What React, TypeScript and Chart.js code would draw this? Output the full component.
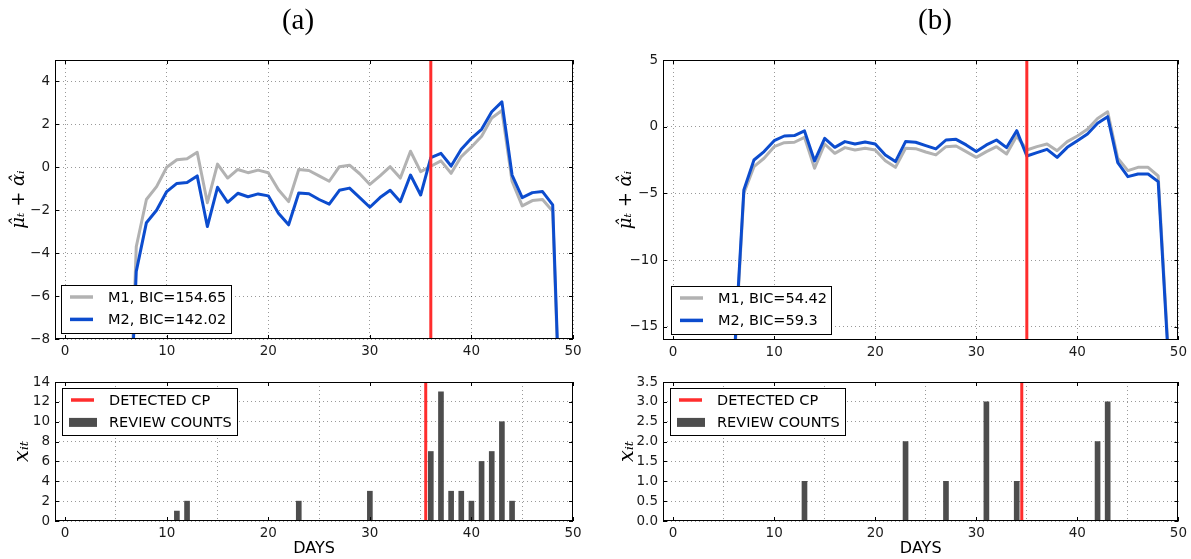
import React, { useEffect, useRef } from "react";
import { Chart, registerables } from "chart.js";

Chart.register(...registerables);

// ---------- data ----------
const days = [6, 7, 8, 9, 10, 11, 12, 13, 14, 15, 16, 17, 18, 19, 20, 21, 22, 23, 24, 25, 26, 27, 28, 29, 30, 31, 32, 33, 34, 35, 36, 37, 38, 39, 40, 41, 42, 43, 44, 45, 46, 47, 48, 49];

const m1A = [-17, -3.7, -1.5, -0.9, 0.0, 0.35, 0.4, 0.7, -1.65, 0.15, -0.5, -0.1, -0.25, -0.13, -0.25, -1.05, -1.6, -0.1, -0.15, -0.4, -0.65, 0.03, 0.1, -0.3, -0.8, -0.4, 0.03, -0.5, 0.75, -0.2, 0.05, 0.3, -0.28, 0.5, 0.95, 1.45, 2.3, 2.65, -0.65, -1.8, -1.55, -1.5, -2.05, -16];
const m2A = [-16.5, -4.85, -2.58, -2.0, -1.13, -0.75, -0.71, -0.4, -2.76, -0.93, -1.63, -1.21, -1.37, -1.24, -1.33, -2.14, -2.68, -1.2, -1.23, -1.5, -1.72, -1.07, -0.97, -1.41, -1.86, -1.41, -1.07, -1.6, -0.36, -1.29, 0.45, 0.65, 0.06, 0.84, 1.35, 1.77, 2.59, 3.05, -0.36, -1.41, -1.18, -1.13, -1.75, -15.6];

const m1B = [-18.5, -5.0, -3.0, -2.37, -1.5, -1.2, -1.17, -0.8, -3.12, -1.3, -2.0, -1.57, -1.75, -1.62, -1.75, -2.55, -3.05, -1.62, -1.65, -1.9, -2.12, -1.5, -1.45, -1.87, -2.3, -1.87, -1.5, -2.05, -0.7, -1.75, -1.5, -1.3, -1.8, -1.12, -0.7, -0.2, 0.62, 1.12, -2.37, -3.3, -3.05, -3.05, -3.7, -17];
const m2B = [-18, -4.75, -2.5, -1.87, -1.05, -0.7, -0.67, -0.32, -2.57, -0.87, -1.55, -1.12, -1.3, -1.15, -1.3, -2.12, -2.62, -1.12, -1.17, -1.42, -1.67, -1.0, -0.95, -1.37, -1.87, -1.37, -1.0, -1.57, -0.3, -2.2, -1.95, -1.7, -2.3, -1.55, -1.05, -0.55, 0.25, 0.75, -2.7, -3.75, -3.55, -3.55, -4.12, -17.4];

const countDaysA = [11, 12, 23, 30, 36, 37, 38, 39, 40, 41, 42, 43, 44];
const countsA = [1, 2, 2, 3, 7, 13, 3, 3, 2, 6, 7, 10, 2];
const countDaysB = [13, 23, 27, 31, 34, 42, 43];
const countsB = [1, 2, 1, 3, 1, 2, 3];

const cpTopA = 36;
const cpBottomA = 35.5;
const cpTopB = 35;
const cpBottomB = 34.5;

const xRange = [-1, 50];
const xTicks = [0, 10, 20, 30, 40, 50];
const yRangeTopA = [-8, 5];
const yTicksTopA = [-8, -6, -4, -2, 0, 2, 4];
const yRangeTopB = [-16, 5];
const yTicksTopB = [-15, -10, -5, 0, 5];
const yRangeBottomA = [0, 14];
const yTicksBottomA = [0, 2, 4, 6, 8, 10, 12, 14];
const yRangeBottomB = [0, 3.5];
const yTicksBottomB = [0, 0.5, 1, 1.5, 2, 2.5, 3, 3.5];

const legendTopA = ["M1, BIC=154.65", "M2, BIC=142.02"];
const legendTopB = ["M1, BIC=54.42", "M2, BIC=59.3"];
const legendBottom = ["DETECTED CP", "REVIEW COUNTS"];
const panelTitles = ["(a)", "(b)"];
const yTitleTop = "μ\u0302ₜ + α\u0302ᵢ";
const yTitleBottom = "xᵢₜ";
const xTitleBottom = "DAYS";

// ---------- styles ----------
const GRAY = "rgb(178,178,178)";
const BLUE = "rgb(12,76,206)";
const RED = "rgb(255,45,45)";
const BAR = "rgb(77,77,77)";
const SANS = "'DejaVu Sans', sans-serif";
const fmtMinus = (v: number, digits = 0) => {
  const s = digits ? Math.abs(v).toFixed(digits) : String(Math.abs(v));
  return (v < 0 ? "\u2212" : "") + s;
};

const framePlugin = {
  id: "frame",
  afterDatasetsDraw(chart: any, _args: any, opts: any) {
    const { ctx, chartArea: a, scales } = chart;
    const x = scales.x;
    const y = scales.y;
    ctx.save();
    ctx.strokeStyle = "#000";
    ctx.lineWidth = 1;
    ctx.beginPath();
    x.ticks.forEach((t: any) => {
      const px = Math.round(x.getPixelForValue(t.value)) + 0.5;
      ctx.moveTo(px, a.bottom);
      ctx.lineTo(px, a.bottom - 4);
      ctx.moveTo(px, a.top);
      ctx.lineTo(px, a.top + 4);
    });
    y.ticks.forEach((t: any) => {
      const py = Math.round(y.getPixelForValue(t.value)) + 0.5;
      ctx.moveTo(a.left, py);
      ctx.lineTo(a.left + 4, py);
      ctx.moveTo(a.right, py);
      ctx.lineTo(a.right - 4, py);
    });
    ctx.stroke();
    ctx.strokeRect(Math.round(a.left) + 0.5, Math.round(a.top) + 0.5, Math.round(a.right) - Math.round(a.left) - 1, Math.round(a.bottom) - Math.round(a.top) - 1);

    const L = opts && opts.legend;
    if (L) {
      const bx = Math.round(a.left + L.dx);
      const by = L.fromBottom ? Math.round(a.bottom - L.dy - L.h) : Math.round(a.top + L.dy);
      ctx.fillStyle = "#fff";
      ctx.fillRect(bx, by, L.w, L.h);
      ctx.strokeStyle = "#000";
      ctx.lineWidth = 1;
      ctx.strokeRect(bx + 0.5, by + 0.5, L.w, L.h);
      L.items.forEach((it: any, i: number) => {
        const cy = by + 12 + i * 22.4;
        if (it.kind === "line") {
          ctx.strokeStyle = it.color;
          ctx.lineWidth = 3.5;
          ctx.beginPath();
          ctx.moveTo(bx + 9, cy);
          ctx.lineTo(bx + 32, cy);
          ctx.stroke();
        } else {
          ctx.fillStyle = it.color;
          ctx.fillRect(bx + 7, cy - 4.5, 28, 9);
        }
        ctx.fillStyle = "#000";
        ctx.font = "14.5px " + SANS;
        ctx.textBaseline = "middle";
        ctx.textAlign = "left";
        ctx.fillText(it.label, bx + 47, cy + 1);
      });
    }
    const T = opts && opts.title;
    if (T) {
      ctx.fillStyle = "#000";
      ctx.font = "29px 'Liberation Serif', serif";
      ctx.textAlign = "center";
      ctx.textBaseline = "middle";
      ctx.fillText(T.text, T.x, T.y);
    }
    ctx.restore();
  },
};

type PanelCfg = {
  kind: "top" | "bottom";
  width: number;
  height: number;
  pad: { left: number; top: number; right: number; bottom: number };
  yWidth: number;
  xHeight: number;
  yRange: number[];
  yTicks: number[];
  yDigits: number;
  yTitle: string;
  yTitleSize: number;
  yTitlePad: number;
  datasets: any[];
  legend: any;
  title?: any;
};

function buildConfig(c: PanelCfg): any {
  const tickFont = { family: SANS, size: 13.5 };
  return {
    type: c.kind === "top" ? "line" : "bar",
    data: { datasets: c.datasets },
    plugins: [framePlugin],
    options: {
      animation: false,
      responsive: false,
      events: [],
      layout: { padding: c.pad },
      plugins: {
        legend: { display: false },
        tooltip: { enabled: false },
        frame: { legend: c.legend, title: c.title },
      },
      scales: {
        x: {
          type: "linear",
          min: xRange[0],
          max: xRange[1],
          offset: false,
          afterBuildTicks: (s: any) => {
            s.ticks = xTicks.map((v) => ({ value: v }));
          },
          afterFit: (s: any) => {
            s.height = c.xHeight;
          },
          ticks: { font: tickFont, color: "#1a1a1a", padding: 4, maxRotation: 0, callback: (v: number) => fmtMinus(v) },
          grid: { color: "rgba(0,0,0,0.4)", lineWidth: 1, drawTicks: false },
          border: { display: false, dash: [1, 3] },
          title: c.kind === "bottom"
            ? { display: true, text: xTitleBottom, font: { family: SANS, size: 16 }, color: "#000", padding: { top: 0, bottom: 1 } }
            : { display: false },
        },
        y: {
          type: "linear",
          min: c.yRange[0],
          max: c.yRange[1],
          afterBuildTicks: (s: any) => {
            s.ticks = c.yTicks.map((v) => ({ value: v }));
          },
          afterFit: (s: any) => {
            s.width = c.yWidth;
          },
          ticks: { font: tickFont, color: "#1a1a1a", padding: 5, callback: (v: number) => fmtMinus(v, c.yDigits) },
          grid: { color: "rgba(0,0,0,0.4)", lineWidth: 1, drawTicks: false },
          border: { display: false, dash: [1, 3] },
          title: {
            display: true,
            text: c.yTitle,
            font: { family: "'DejaVu Serif', serif", size: c.yTitleSize, style: "italic" },
            color: "#000",
            padding: { top: c.yTitlePad, bottom: 0 },
          },
        },
      },
    },
  };
}

const pts = (xs: number[], ys: number[]) => xs.map((d, i) => ({ x: d, y: ys[i] }));

function lineSets(m1: number[], m2: number[], cp: number, yRange: number[]) {
  return [
    { type: "line", data: [{ x: cp, y: yRange[0] }, { x: cp, y: yRange[1] }], borderColor: RED, borderWidth: 3, pointRadius: 0, clip: 0, order: 0 },
    { type: "line", label: "M2", data: pts(days, m2), borderColor: BLUE, borderWidth: 3, pointRadius: 0, tension: 0, clip: 0, order: 1, borderJoinStyle: "round" },
    { type: "line", label: "M1", data: pts(days, m1), borderColor: GRAY, borderWidth: 3, pointRadius: 0, tension: 0, clip: 0, order: 2, borderJoinStyle: "round" },
  ];
}

function barSets(cd: number[], counts: number[], cp: number, yRange: number[]) {
  return [
    { type: "line", data: [{ x: cp, y: yRange[0] }, { x: cp, y: yRange[1] }], borderColor: RED, borderWidth: 3, pointRadius: 0, clip: 0, order: 0 },
    { type: "bar", label: "REVIEW COUNTS", data: pts(cd, counts), backgroundColor: BAR, barThickness: 5, grouped: false, order: 1 },
  ];
}

const panels: { left: number; top: number; cfg: PanelCfg }[] = [
  {
    left: 0,
    top: 0,
    cfg: {
      kind: "top", width: 596, height: 362,
      pad: { left: 0, top: 60, right: 23, bottom: 0 }, yWidth: 55, xHeight: 23,
      yRange: yRangeTopA, yTicks: yTicksTopA, yDigits: 0, yTitle: yTitleTop, yTitleSize: 18, yTitlePad: 9,
      datasets: lineSets(m1A, m2A, cpTopA, yRangeTopA),
      legend: { dx: 6, dy: 6, fromBottom: true, w: 170, h: 48, items: [{ kind: "line", color: GRAY, label: legendTopA[0] }, { kind: "line", color: BLUE, label: legendTopA[1] }] },
      title: { text: panelTitles[0], x: 298, y: 21 },
    },
  },
  {
    left: 600,
    top: 0,
    cfg: {
      kind: "top", width: 591, height: 362,
      pad: { left: 0, top: 60, right: 9, bottom: 0 }, yWidth: 63, xHeight: 22,
      yRange: yRangeTopB, yTicks: yTicksTopB, yDigits: 0, yTitle: yTitleTop, yTitleSize: 18, yTitlePad: 16,
      datasets: lineSets(m1B, m2B, cpTopB, yRangeTopB),
      legend: { dx: 8, dy: 6, fromBottom: true, w: 160, h: 48, items: [{ kind: "line", color: GRAY, label: legendTopB[0] }, { kind: "line", color: BLUE, label: legendTopB[1] }] },
      title: { text: panelTitles[1], x: 335, y: 21 },
    },
  },
  {
    left: 0,
    top: 362,
    cfg: {
      kind: "bottom", width: 596, height: 197,
      pad: { left: 0, top: 20, right: 23, bottom: 0 }, yWidth: 55, xHeight: 38,
      yRange: yRangeBottomA, yTicks: yTicksBottomA, yDigits: 0, yTitle: yTitleBottom, yTitleSize: 21, yTitlePad: 10,
      datasets: barSets(countDaysA, countsA, cpBottomA, yRangeBottomA),
      legend: { dx: 7, dy: 6, fromBottom: false, w: 175, h: 47, items: [{ kind: "line", color: RED, label: legendBottom[0] }, { kind: "rect", color: BAR, label: legendBottom[1] }] },
    },
  },
  {
    left: 600,
    top: 362,
    cfg: {
      kind: "bottom", width: 591, height: 197,
      pad: { left: 0, top: 20, right: 9, bottom: 0 }, yWidth: 63, xHeight: 38,
      yRange: yRangeBottomB, yTicks: yTicksBottomB, yDigits: 1, yTitle: yTitleBottom, yTitleSize: 21, yTitlePad: 15,
      datasets: barSets(countDaysB, countsB, cpBottomB, yRangeBottomB),
      legend: { dx: 7, dy: 6, fromBottom: false, w: 175, h: 47, items: [{ kind: "line", color: RED, label: legendBottom[0] }, { kind: "rect", color: BAR, label: legendBottom[1] }] },
    },
  },
];

function Panel({ left, top, cfg }: { left: number; top: number; cfg: PanelCfg }) {
  const ref = useRef<HTMLCanvasElement | null>(null);
  useEffect(() => {
    if (!ref.current) return;
    const chart = new Chart(ref.current, buildConfig(cfg));
    return () => chart.destroy();
  }, []);
  return (
    <canvas
      ref={ref}
      width={cfg.width}
      height={cfg.height}
      style={{ position: "absolute", left, top, width: cfg.width, height: cfg.height }}
    />
  );
}

export default function App() {
  return (
    <div style={{ position: "absolute", left: 0, top: 0, width: 1191, height: 559, background: "#fff" }}>
      {panels.map((p, i) => (
        <Panel key={i} left={p.left} top={p.top} cfg={p.cfg} />
      ))}
    </div>
  );
}
